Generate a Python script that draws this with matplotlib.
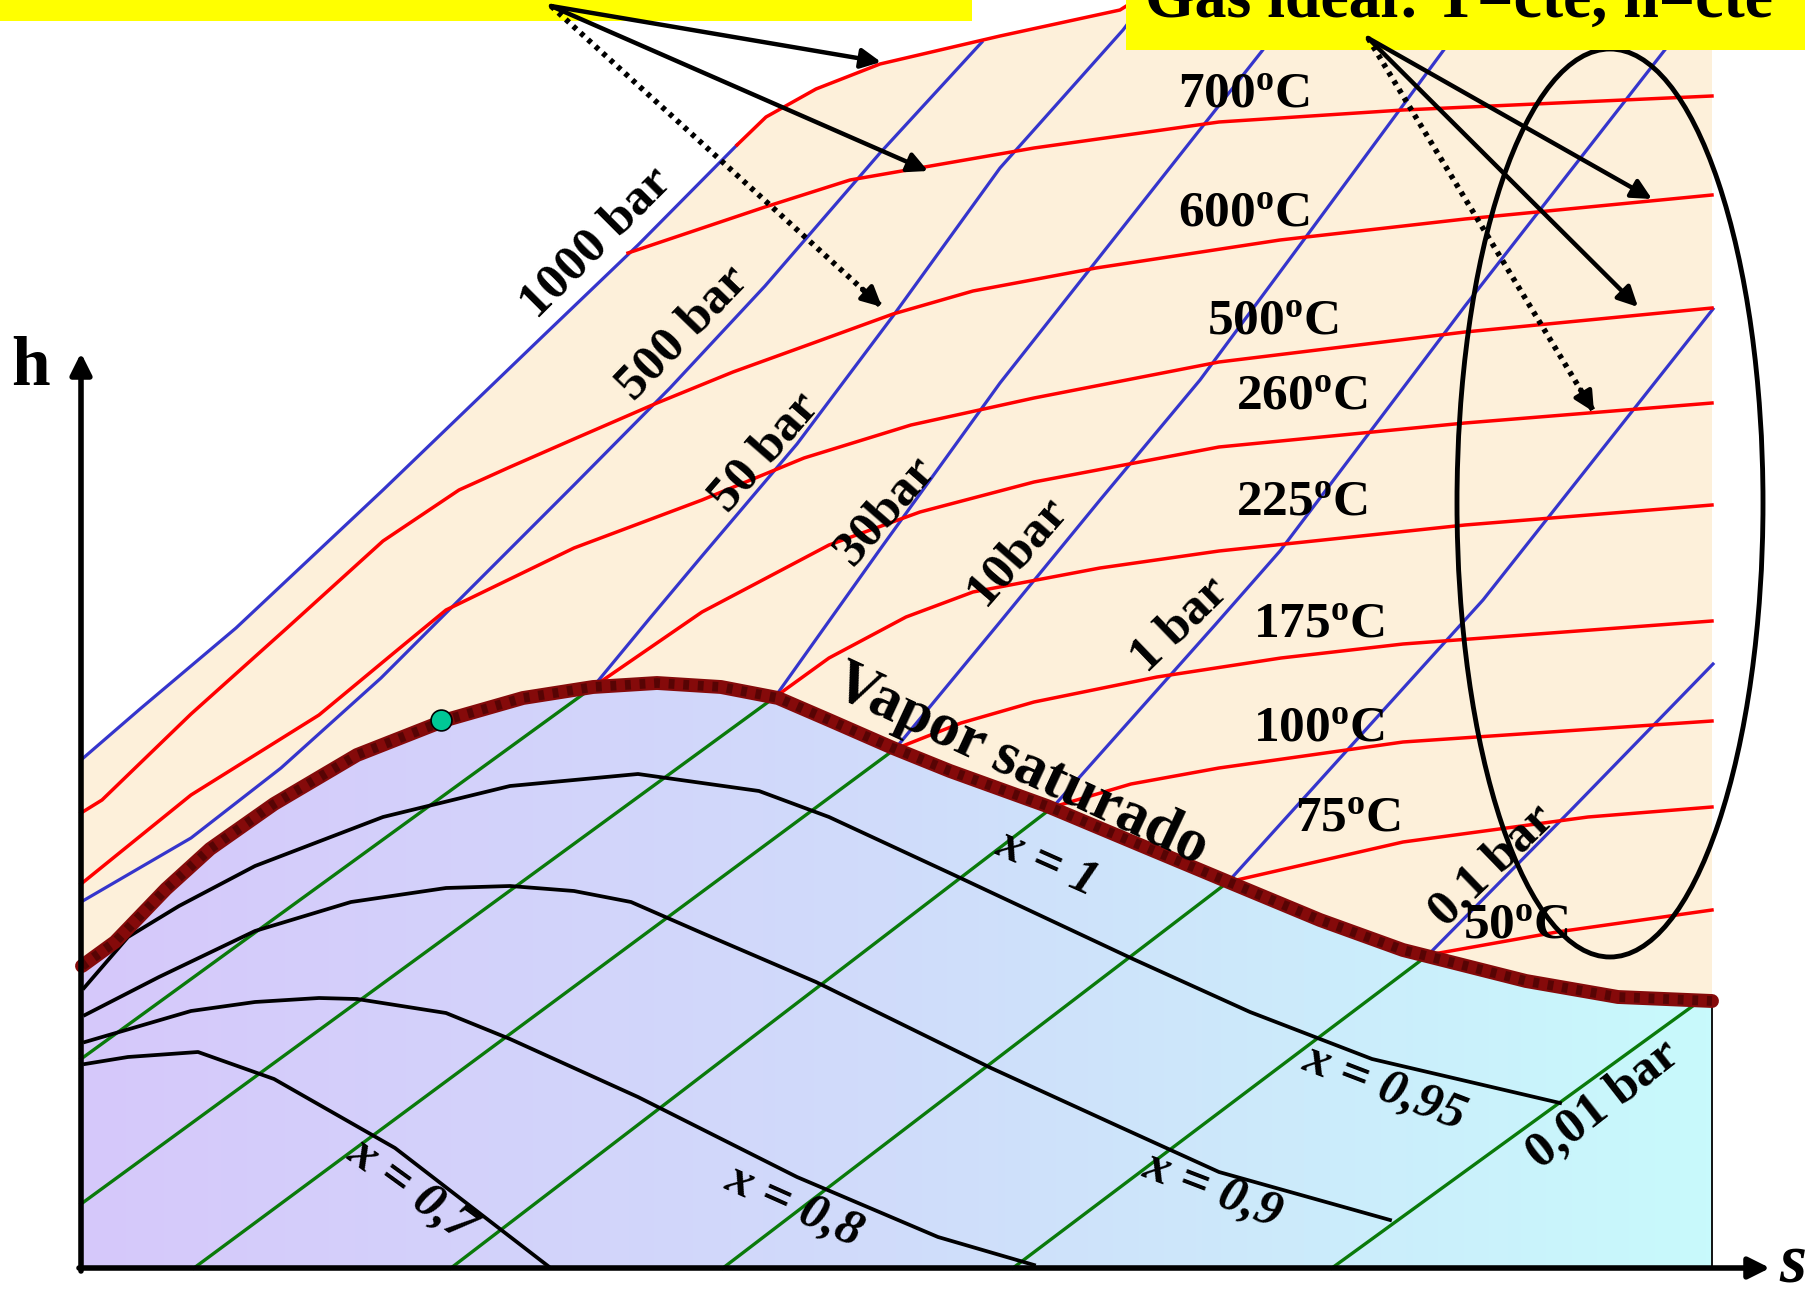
import numpy as np
import matplotlib.pyplot as plt
from matplotlib.colors import LinearSegmentedColormap
from matplotlib.patches import Ellipse, Polygon, Rectangle

plt.rcParams['font.family'] = ['Liberation Serif', 'DejaVu Serif']
plt.rcParams['font.weight'] = 'bold'
plt.rcParams['mathtext.fontset'] = 'custom'
plt.rcParams['mathtext.rm'] = 'Liberation Serif:bold'
plt.rcParams['mathtext.it'] = 'Liberation Serif:bold:italic'
plt.rcParams['mathtext.bf'] = 'Liberation Serif:bold'

# s, h in arbitrary units (no scale on the original diagram)
# curva de vapor saturado
sat_s = [1, 34, 85, 129, 193, 276, 365, 442, 512, 576, 640, 697, 748, 812, 869, 966, 1059, 1150, 1239, 1322, 1445, 1537, 1631]
sat_h = [302, 326, 379, 419, 464, 513, 548, 570, 581, 585, 581, 570, 548, 520, 497, 462, 423, 385, 348, 318, 287, 271, 267]

# isobaras, zona de vapor sobrecalentado
p1000_s = [0, 59, 155, 302, 461, 557, 656]
p1000_h = [508, 559, 640, 778, 931, 1023, 1123]
p500_s = [0, 110, 200, 300, 400, 493, 589, 684, 799, 901]
p500_h = [366, 430, 500, 590, 690, 783, 880, 982, 1115, 1226]
p50_s = [512, 569, 621, 716, 812, 919, 1042, 1070]
p50_h = [581, 650, 712, 824, 952, 1100, 1238, 1275]
p30_s = [694, 800, 919, 1181, 1220]
p30_h = [571, 720, 885, 1217, 1270]
p10_s = [814, 919, 1019, 1119, 1219, 1362, 1400]
p10_h = [519, 646, 768, 888, 1023, 1217, 1270]
p1_s = [972, 1134, 1199, 1384, 1583, 1620]
p1_h = [461, 643, 717, 962, 1217, 1265]
pu_s = [1147, 1402, 1632]
pu_h = [386, 668, 959]
p01_s = [1347, 1490, 1632]
p01_h = [313, 458, 604]

# isobaras en la campana (rectas): inicio en vapor saturado, final en los ejes
g_s0 = [512, 694, 814, 972, 1147, 1347, 1620]
g_h0 = [581, 571, 519, 461, 386, 313, 268]
g_s1 = [0, 0, 113, 370, 642, 932, 1251]
g_h1 = [209, 64, 0, 0, 0, 0, 0]

# isotermas
top_s = [656, 685, 735, 799, 919, 1039, 1090]
top_h = [1123, 1151, 1179, 1204, 1232, 1258, 1290]
t700_s = [547, 684, 769, 953, 1138, 1322, 1631]
t700_h = [1015, 1061, 1088, 1120, 1146, 1158, 1172]
t600_s = [0, 21, 110, 206, 302, 378, 429, 493, 576, 652, 735, 812, 892, 1015, 1199, 1384, 1631]
t600_h = [455, 468, 554, 640, 727, 778, 801, 829, 865, 896, 926, 954, 977, 1000, 1028, 1049, 1073]
t500_s = [0, 110, 238, 314, 365, 493, 621, 723, 830, 953, 1138, 1384, 1631]
t500_h = [384, 473, 553, 616, 658, 720, 768, 810, 843, 870, 906, 936, 960]
t260_s = [512, 621, 748, 839, 953, 1138, 1384, 1631]
t260_h = [581, 656, 723, 756, 786, 821, 845, 865]
t225_s = [694, 748, 825, 892, 1019, 1138, 1384, 1631]
t225_h = [571, 610, 651, 676, 700, 717, 743, 763]
t175_s = [814, 880, 953, 1076, 1200, 1322, 1631]
t175_h = [519, 545, 566, 591, 610, 624, 647]
t100_s = [972, 1050, 1138, 1322, 1631]
t100_h = [461, 484, 500, 526, 547]
t75_s = [1147, 1322, 1507, 1631]
t75_h = [386, 426, 451, 461]
t50_s = [1347, 1476, 1631]
t50_h = [313, 336, 358]

# titulo constante
x95_s = [3, 47, 98, 174, 302, 429, 557, 678, 748, 873, 1052, 1169, 1291, 1479]
x95_h = [280, 331, 362, 402, 451, 482, 494, 477, 451, 393, 309, 256, 209, 165]
x90_s = [4, 78, 174, 270, 365, 429, 493, 550, 621, 735, 910, 1039, 1138, 1309]
x90_h = [253, 291, 337, 366, 380, 382, 377, 366, 335, 286, 200, 141, 96, 48]
x80_s = [4, 110, 174, 238, 276, 365, 429, 557, 716, 857, 953]
x80_h = [226, 257, 266, 270, 269, 255, 229, 171, 91, 31, 3]
x70_s = [4, 47, 117, 193, 314, 467]
x70_h = [204, 211, 216, 189, 120, 2]

punto_s, punto_h = 360, 548

# etiquetas: texto, s, h, angulo
p_labels = [("1000 bar", 515, 1025, 45), ("500 bar", 602, 935, 46), ("50 bar", 684, 816, 49),
            ("30bar", 805, 758, 49), ("10bar", 937, 718, 49), ("1 bar", 1099, 643, 44),
            ("0,1 bar", 1411, 402, 44), ("0,01 bar", 1522, 163, 38)]
t_labels = [("700", 1163, 1173), ("600", 1163, 1054), ("500", 1192, 946), ("260", 1221, 871),
            ("225", 1221, 765), ("175", 1238, 643), ("100", 1238, 539), ("75", 1267, 449),
            ("50", 1435, 342)]
x_labels = [("x = 1", 966, 404, -24), ("x = 0,95", 1304, 180, -21), ("x = 0,9", 1132, 78, -21),
            ("x = 0,8", 713, 62, -24), ("x = 0,7", 330, 78, -36)]

fig = plt.figure(figsize=(18.14, 12.95), dpi=100)
ax = fig.add_axes([0, 0, 1, 1])

# zona de vapor sobrecalentado
vap_s = p1000_s + top_s + [1090, 1631] + sat_s[::-1] + [0]
vap_h = p1000_h + top_h + [1300, 1300] + sat_h[::-1] + [302]
ax.add_patch(Polygon(np.column_stack([vap_s, vap_h]), closed=True, fc='#FDF0DA', ec='none', zorder=0))

# campana con degradado
cmap = LinearSegmentedColormap.from_list('dome', ['#D6C8FA', '#D0DCFA', '#C8FAFC'])
grad = np.linspace(0, 1, 256).reshape(1, -1)
im = ax.imshow(grad, extent=(0, 1631, 0, 600), aspect='auto', cmap=cmap, origin='lower', zorder=1)
dome = Polygon(np.column_stack([sat_s + [1631, 0], sat_h + [0, 0]]), closed=True, fc='none', ec='none')
ax.add_patch(dome)
im.set_clip_path(dome)

blue = '#3535CC'
for s, h in [(p1000_s, p1000_h), (p500_s, p500_h), (p50_s, p50_h), (p30_s, p30_h),
             (p10_s, p10_h), (p1_s, p1_h), (pu_s, pu_h), (p01_s, p01_h)]:
    ax.plot(s, h, color=blue, lw=2.3, zorder=2)

for a, b, c, d in zip(g_s0, g_h0, g_s1, g_h1):
    ax.plot([a, c], [b, d], color='#0A7A0A', lw=2.4, zorder=2)

for s, h in [(top_s, top_h), (t700_s, t700_h), (t600_s, t600_h), (t500_s, t500_h),
             (t260_s, t260_h), (t225_s, t225_h), (t175_s, t175_h), (t100_s, t100_h),
             (t75_s, t75_h), (t50_s, t50_h)]:
    ax.plot(s, h, color='#FF0000', lw=2.5, zorder=2)

for s, h in [(x95_s, x95_h), (x90_s, x90_h), (x80_s, x80_h), (x70_s, x70_h)]:
    ax.plot(s, h, color='black', lw=2.7, zorder=2)

ax.plot([1631, 1631], [0, 267], color='black', lw=1.3, zorder=2)

# vapor saturado
ax.plot(sat_s, sat_h, color='#850A0A', lw=10, solid_capstyle='round', zorder=4)
ax.plot(sat_s, sat_h, color='#2A0000', lw=7, ls=(0, (0.6, 0.9)), alpha=0.5, zorder=4)
ax.plot(punto_s, punto_h, 'o', ms=15, mfc='#00C896', mec='black', mew=1.2, zorder=5)

# ejes
arw = dict(arrowstyle='-|>', color='black', lw=4, mutation_scale=32, shrinkA=0, shrinkB=0)
ax.annotate('', xy=(0, 915), xytext=(0, -3), arrowprops=arw, zorder=6)
ax.annotate('', xy=(1689, 0), xytext=(-2, 0), arrowprops=arw, zorder=6)
ax.text(-50, 900, 'h', fontsize=50, ha='center', va='center')
ax.text(1712, 4, 's', fontsize=50, style='italic', ha='center', va='center')

for txt, s, h, r in p_labels:
    ax.text(s, h, txt, fontsize=37, rotation=r, rotation_mode='anchor', ha='center', va='center', zorder=5)
for t, s, h in t_labels:
    ax.text(s, h, t + r'$^{\mathrm{o}}$C', fontsize=37, ha='center', va='center', zorder=5)
for txt, s, h, r in x_labels:
    ax.text(s, h, txt, fontsize=37, style='italic', rotation=r, rotation_mode='anchor',
            ha='center', va='center', zorder=5)
ax.text(940, 503, 'Vapor saturado', fontsize=44, rotation=-25, rotation_mode='anchor',
        ha='center', va='center', zorder=5)

# cajas amarillas, flechas y elipse
ax.add_patch(Rectangle((-81, 1247), 972, 60, fc='#FFFF00', ec='none', zorder=7))
ax.add_patch(Rectangle((1045, 1218), 679, 90, fc='#FFFF00', ec='none', zorder=7))
ax.text(1378, 1251, 'Gas ideal: T=cte, h=cte', fontsize=46, ha='center', va='baseline', zorder=8)

head = dict(arrowstyle='-|>', color='black', lw=3.2, mutation_scale=30, shrinkA=0, shrinkB=0)
for (s0, h0), solid, dotted in [((470, 1262), [(800, 1206), (847, 1097)], (801, 961)),
                                ((1287, 1230), [(1571, 1069), (1557, 961)], (1513, 856))]:
    for s1, h1 in solid:
        ax.annotate('', xy=(s1, h1), xytext=(s0, h0), arrowprops=head, zorder=8)
    s1, h1 = dotted
    ax.plot([s0, s1], [h0, h1], color='black', lw=4, ls=(0, (0.8, 1.0)), zorder=8)
    ax.annotate('', xy=(s1, h1), xytext=(s1 - 0.06 * (s1 - s0), h1 - 0.06 * (h1 - h0)),
                arrowprops=head, zorder=8)

ax.add_patch(Ellipse((1529, 765), 306, 908, fill=False, ec='black', lw=3.5, zorder=6))

ax.set_xlim(-81, 1733)
ax.set_ylim(-27, 1268)
ax.axis('off')
fig.savefig('out.png', dpi=100)
